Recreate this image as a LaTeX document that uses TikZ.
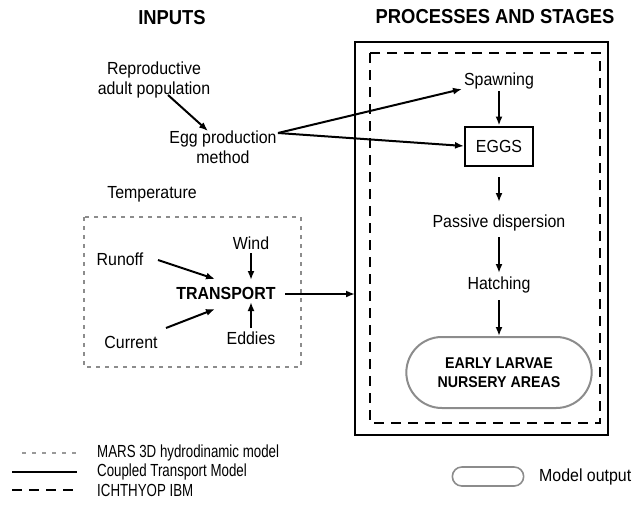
\documentclass[tikz,border=0pt]{standalone}
\usepackage{fontspec}
\setmainfont[FakeStretch=0.91]{Liberation Sans}
\newfontfamily\legendfont[FakeStretch=0.76]{Liberation Sans}
\usetikzlibrary{arrows.meta,shapes.misc}
\begin{document}
\begin{tikzpicture}[x=1pt,y=-1pt,
  txt/.style={font=\fontsize{17.5}{20}\selectfont, align=center, inner sep=1pt},
  head/.style={font=\fontsize{20.2}{22}\bfseries\selectfont, inner sep=1pt},
  bld/.style={font=\fontsize{17.5}{20}\bfseries\selectfont, inner sep=1pt},
  leg/.style={font=\fontsize{17.5}{18}\legendfont\selectfont, anchor=west, inner sep=1pt},
  arr/.style={line width=2pt, -{Latex[length=9pt,width=7pt]}},
  outbox/.style={rounded rectangle, draw=black!45, line width=2pt}
]
\useasboundingbox (0,0) rectangle (638,506);
% headings
\node[head] (hin) at (172,18) {INPUTS};
\node[head] (hpr) at (495,17) {PROCESSES AND STAGES};
% frames
\draw[line width=2.6pt] (355,42) rectangle (608,435);
\coordinate (boxL) at (355,294);
\draw[line width=2.4pt, dash pattern=on 10pt off 7pt] (370,53) rectangle (600,423);
\draw[black!45, line width=2pt, dash pattern=on 4pt off 5pt] (84,217) rectangle (301,367);
% right column
\node[txt] (spawn) at (499,81) {Spawning};
\node[txt, draw, line width=2pt, minimum width=68pt, minimum height=39pt] (eggs) at (499,146) {EGGS};
\node[txt] (pass) at (499,223) {Passive dispersion};
\node[txt] (hatch) at (499,285) {Hatching};
\node[outbox, minimum width=192pt, minimum height=71pt, align=center,
      font=\fontsize{15.6}{19}\bfseries\selectfont] (early) at (499,372.5) {EARLY LARVAE\\NURSERY AREAS};
\draw[arr] (499,91) -- (eggs.north);
\draw[arr] (499,177) -- (499,202);
\draw[arr] (499,237) -- (499,273);
\draw[arr] (499,300) -- (early.north);
% left inputs
\node[txt] (repro) at (154,80) {Reproductive\\adult population};
\node[txt] (eggm) at (223,147) {Egg production\\method};
\coordinate (es) at (278,133);
\draw[arr] (168,95) -- (208,131);
\draw[arr] (es) -- (462,89);
\draw[arr] (es) -- (eggs.west);
\node[txt] (temp) at (152,194) {Temperature};
\node[txt] (wind) at (251,243) {Wind};
\node[txt] (runoff) at (120,259) {Runoff};
\node[bld] (trans) at (226,293) {TRANSPORT};
\node[txt] (curr) at (131,342) {Current};
\node[txt] (edd) at (251,338) {Eddies};
\draw[arr] (251,253) -- (251,280);
\draw[arr] (251,328) -- (251,302);
\draw[arr] (158,260) -- (215,279);
\draw[arr] (166,328) -- (215,309);
\draw[arr] (285,294) -- (boxL);
% legend
\coordinate (l1a) at (22,453); \coordinate (l1b) at (77,453);
\coordinate (l2a) at (12,472); \coordinate (l2b) at (77,472);
\coordinate (l3a) at (12,490); \coordinate (l3b) at (77,490);
\draw[black!40, line width=1.6pt, dash pattern=on 4pt off 6pt] (l1a) -- (l1b);
\draw[line width=2pt] (l2a) -- (l2b);
\draw[line width=2.4pt, dash pattern=on 10pt off 7pt] (l3a) -- (l3b);
\node[leg] (t1) at (96,453) {MARS 3D hydrodinamic model};
\node[leg] (t2) at (96,472) {Coupled Transport Model};
\node[leg] (t3) at (96,490) {ICHTHYOP IBM};
\node[outbox, minimum width=78pt, minimum height=19pt, line width=1.6pt] (mo) at (488,476.5) {};
\node[txt, anchor=west] (mot) at (538,477) {Model output};
\end{tikzpicture}
\end{document}
